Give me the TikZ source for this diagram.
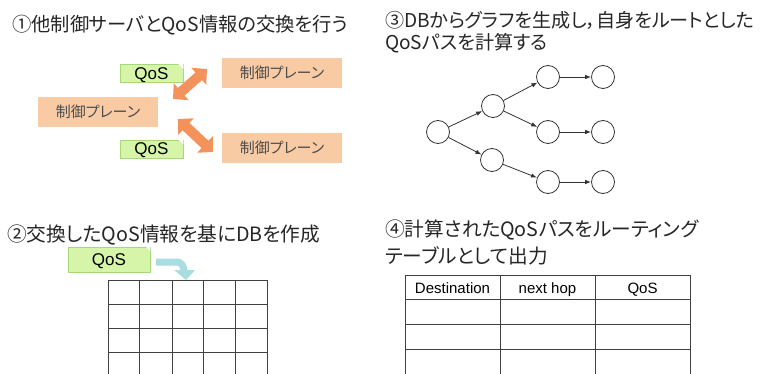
\documentclass[tikz,border=0pt]{standalone}
\usepackage{fontspec}
\setmainfont{Noto Sans CJK JP}[RawFeature=+palt]
\newfontfamily\latinfont{Liberation Sans}
\usetikzlibrary{arrows.meta,shapes.misc}
\definecolor{peach}{HTML}{F9CBA5}
\definecolor{qosgreen}{HTML}{D6F5A8}
\definecolor{qosedge}{HTML}{A6D977}
\definecolor{orangearrow}{HTML}{F4925C}
\definecolor{cyanarrow}{HTML}{A9DDE0}
\definecolor{gridgray}{HTML}{404040}
\tikzset{
  title/.style={anchor=west, inner sep=0pt, font=\fontsize{19.7}{22}\selectfont, text=black!85},
  plane/.style={fill=peach, minimum width=120pt, minimum height=30pt, inner sep=0pt,
    font=\fontsize{15}{18}\selectfont, text=black!70},
  qostag/.style={fill=qosgreen, draw=qosedge, line width=0.8pt, minimum width=63pt, minimum height=18pt,
    inner sep=0pt, text height=12pt, text depth=0pt, font=\latinfont\fontsize{17}{20}\selectfont},
  dblarrow/.style={orangearrow, line width=10pt, {Triangle[length=11pt,width=22pt]}-{Triangle[length=11pt,width=22pt]}},
  vertex/.style={circle, draw=black!80, line width=0.8pt, minimum size=23pt, inner sep=0pt},
  edge/.style={-{Latex[length=6pt,width=4.5pt]}, line width=0.8pt, black!80},
  thead/.style={anchor=base, font=\latinfont\fontsize{15}{18}\selectfont, inner sep=0pt},
}
\begin{document}
\begin{tikzpicture}[x=1pt,y=-1pt]
\useasboundingbox (0,0) rectangle (765,374);
\fill[white] (0,0) rectangle (765,374);

% ---------- section 1 ----------
\node[title, font=\fontsize{19.3}{22}\selectfont] (t1) at (12,25) {①他制御サーバとQoS情報の交換を行う};
\draw[dblarrow] (173,99) -- (207,69);
\draw[dblarrow] (178,119) -- (213,152);
\node[plane] (p1) at (282,73) {制御プレーン};
\node[plane] (p2) at (98,112) {制御プレーン};
\node[plane] (p3) at (282,148) {制御プレーン};
\node[qostag] (q1) at (151.5,73.5) {QoS};
\node[qostag] (q2) at (151.5,149) {QoS};
\fill[white] (q1.north east) -- ++(-5,0) -- ++(5,5) -- cycle;
\fill[white] (q2.north east) -- ++(-5,0) -- ++(5,5) -- cycle;

% ---------- section 2 ----------
\node[title] (t2) at (7,235) {②交換したQoS情報を基にDBを作成};
\node[qostag, minimum width=82pt, minimum height=25pt] (q3) at (109,259.5) {QoS};
\fill[white] (q3.north east) -- ++(-5,0) -- ++(5,5) -- cycle;
\coordinate (ca) at (156,262);
\coordinate (cb) at (186,280);
\draw[cyanarrow, line width=7pt] (ca) -- (177,262) to[out=0,in=90] (184,271);
\fill[cyanarrow] (174,270) -- (195,270) -- (cb) -- cycle;
\foreach \y in {280,304,328,352} \draw[gridgray, line width=0.8pt] (108,\y) -- (267,\y);
\foreach \x in {108,139,172,203,235,267} \draw[gridgray, line width=0.8pt] (\x,280) -- (\x,374);

% ---------- section 3 ----------
\node[title, font=\fontsize{19.1}{22}\selectfont] (t3a) at (385,20) {③DBからグラフを生成し，自身をルートとした};
\node[title, font=\fontsize{19.1}{22}\selectfont] (t3b) at (385,43) {QoSパスを計算する};
\node[vertex] (r) at (438,132) {};
\node[vertex] (a) at (493,106) {};
\node[vertex] (b) at (492,160) {};
\node[vertex] (c1) at (548,77) {};
\node[vertex] (c2) at (603,77) {};
\node[vertex] (d1) at (548,132) {};
\node[vertex] (d2) at (603,132) {};
\node[vertex] (e1) at (548,182) {};
\node[vertex] (e2) at (603,182) {};
\draw[edge] (r) -- (a);
\draw[edge] (r) -- (b);
\draw[edge] (a) -- (c1);
\draw[edge] (a) -- (d1);
\draw[edge] (b) -- (e1);
\draw[edge] (c1) -- (c2);
\draw[edge] (d1) -- (d2);
\draw[edge] (e1) -- (e2);

% ---------- section 4 ----------
\node[title] (t4a) at (385,230) {④計算されたQoSパスをルーティング};
\node[title] (t4b) at (385,256) {テーブルとして出力};
\foreach \y in {275,299,324,349} \draw[gridgray, line width=0.8pt] (405,\y) -- (690,\y);
\foreach \x in {405,500,595,690} \draw[gridgray, line width=0.8pt] (\x,275) -- (\x,374);
\node[thead] (h1) at (452.5,293) {Destination};
\node[thead] (h2) at (547.5,293) {next hop};
\node[thead] (h3) at (642.5,293) {QoS};
\end{tikzpicture}
\end{document}
